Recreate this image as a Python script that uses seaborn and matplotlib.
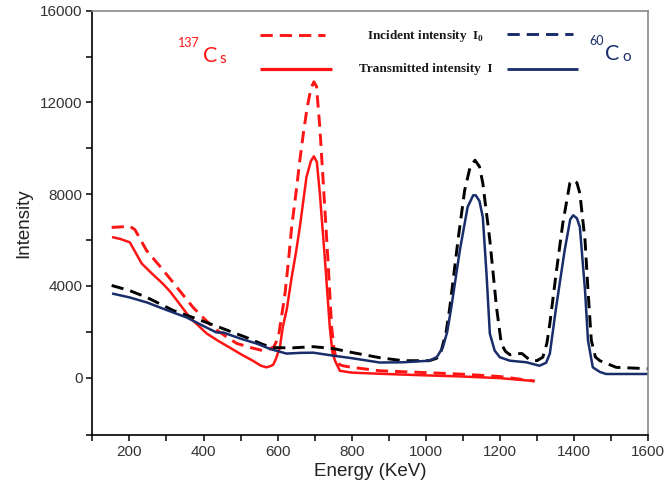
import numpy as np
import pandas as pd
import matplotlib
matplotlib.use("Agg")
import matplotlib.pyplot as plt
import seaborn as sns
from matplotlib.lines import Line2D
from matplotlib.ticker import MultipleLocator, FixedLocator

# ---------------- data ----------------
cs_inc_x = [152, 201, 215, 246, 280, 309, 340, 372, 400, 426, 460, 490, 530, 560, 575, 590,
            602, 611, 620, 630, 638, 650, 660, 670, 680, 690, 698, 705, 714, 725, 736, 746,
            752, 759, 768, 776, 800, 876, 1000, 1100, 1200, 1294]
cs_inc_y = [6550, 6600, 6450, 5550, 4900, 4330, 3700, 3060, 2600, 2190, 1800, 1490, 1300, 1180, 1220, 1350,
            1750, 2700, 3660, 5200, 6570, 8100, 9480, 10700, 11800, 12600, 12900, 12700, 10930, 8040, 5110, 2190,
            1300, 740, 560, 520, 450, 300, 220, 150, 50, -150]

cs_tr_x = [153, 175, 201, 215, 233, 260, 290, 310, 328, 363, 409, 440, 471, 500, 533, 555, 570, 580,
           588, 595, 606, 614, 625, 638, 650, 660, 678, 690, 698, 706, 714, 728, 741, 748, 755, 768,
           800, 876, 1000, 1100, 1200, 1294]
cs_tr_y = [6130, 6050, 5900, 5500, 4980, 4550, 4100, 3750, 3370, 2620, 1920, 1600, 1310, 1030, 740, 520, 450, 500,
           560, 800, 1310, 2200, 3000, 4380, 5500, 6570, 8750, 9450, 9650, 9400, 8040, 5110, 2190, 1100, 740, 300,
           220, 170, 100, 50, -20, -150]

co_inc_x = [152, 200, 247, 318, 372, 444, 516, 560, 588, 640, 696, 750, 800, 876, 938, 1010, 1030, 1042,
            1055, 1065, 1087, 1105, 1120, 1133, 1145, 1154, 1173, 1191, 1204, 1215, 1227, 1245, 1260,
            1280, 1300, 1316, 1327, 1335, 1352, 1370, 1389, 1398, 1408, 1416, 1430, 1438, 1447, 1458,
            1470, 1514, 1600]
co_inc_y = [4020, 3800, 3500, 2930, 2620, 2190, 1750, 1450, 1310, 1300, 1350, 1270, 1100, 870, 740, 740, 850, 1180,
            2000, 3070, 5990, 8170, 9200, 9480, 9200, 8480, 5990, 3070, 1480, 1150, 1000, 1050, 1050,
            780, 740, 890, 1500, 2360, 4550, 6730, 8480, 8610, 8500, 8040, 5990, 3800, 1620, 900,
            740, 450, 390]

co_tr_x = [153, 200, 247, 300, 355, 400, 435, 453, 500, 543, 580, 624, 660, 696, 750, 800, 876, 938, 1010,
           1030, 1046, 1058, 1069, 1092, 1113, 1128, 1135, 1145, 1154, 1164, 1173, 1186, 1200, 1227, 1272,
           1307, 1325, 1335, 1352, 1375, 1390, 1398, 1408, 1416, 1430, 1438, 1451, 1470, 1487, 1600]
co_tr_y = [3670, 3500, 3280, 2950, 2620, 2250, 1970, 1970, 1700, 1490, 1250, 1050, 1080, 1090, 960, 850, 660, 670, 740,
           900, 1320, 2000, 3070, 5550, 7440, 7950, 7950, 7700, 7000, 4530, 1920, 1180, 890, 740, 670,
           520, 650, 1050, 3070, 5550, 6900, 7080, 6950, 6570, 3800, 1620, 450, 250, 160, 160]

x_ticks = [200, 400, 600, 800, 1000, 1200, 1400, 1600]
y_ticks = [0, 4000, 8000, 12000, 16000]

RED = "#ff1414"
NAVY = "#1a2d6b"
BLACK = "#000000"

sns.set_style("ticks")
plt.rcParams["font.family"] = ["Liberation Sans", "DejaVu Sans"]
plt.rcParams["mathtext.fontset"] = "custom"
plt.rcParams["mathtext.rm"] = "Liberation Serif"
plt.rcParams["mathtext.bf"] = "Liberation Serif:bold"

fig = plt.figure(figsize=(6.65, 4.88), dpi=100)
ax = fig.add_axes([92.4 / 665, 53 / 488, 555.6 / 665, 424.3 / 488])

series = [
    (cs_inc_x, cs_inc_y, RED, True, 2.1),
    (cs_tr_x, cs_tr_y, RED, False, 1.8),
    (co_inc_x, co_inc_y, BLACK, True, 2.1),
    (co_tr_x, co_tr_y, NAVY, False, 1.8),
]
for xs, ys, col, dashed, lw in series:
    df = pd.DataFrame({"x": xs, "y": ys})
    sns.lineplot(data=df, x="x", y="y", ax=ax, color=col, lw=lw, sort=False,
                 estimator=None, legend=False)
    ln = ax.lines[-1]
    if dashed:
        ln.set_dashes([4.2, 2.4])
    ln.set_solid_capstyle("butt")
    ln.set_solid_joinstyle("round")

ax.set_xlim(100, 1600)
ax.set_ylim(-2500, 16000)
ax.xaxis.set_major_locator(FixedLocator(x_ticks))
ax.xaxis.set_minor_locator(MultipleLocator(100))
ax.yaxis.set_major_locator(FixedLocator(y_ticks))
ax.yaxis.set_minor_locator(FixedLocator([-2500, 2000, 6000, 10000, 14000]))
ax.tick_params(which="both", direction="out", length=4, width=1.1, color="black",
               labelsize=11, labelcolor="#333333", pad=3)
ax.tick_params(axis="x", which="both", top=False)
ax.tick_params(axis="y", which="both", right=False)

for s in ["left", "bottom"]:
    ax.spines[s].set_color("black")
    ax.spines[s].set_linewidth(1.2)
for s in ["top", "right"]:
    ax.spines[s].set_visible(True)
    ax.spines[s].set_color("#888888")
    ax.spines[s].set_linewidth(1.2)

ax.set_xlabel("Energy (KeV)", fontsize=13.5, color="#222222", labelpad=3)
ax.set_ylabel("Intensity", fontsize=13.5, color="#222222", labelpad=6)

# legend-like annotations (axes-fraction coordinates)
def fx(px):
    return (px - 92.4) / 555.6

def fy(py):
    return (435 - py) / 424.3

ax.add_line(Line2D([fx(260), fx(325)], [fy(35), fy(35)], transform=ax.transAxes,
                   color=RED, lw=2.1, dashes=[4.2, 2.4], solid_capstyle="butt"))
ax.add_line(Line2D([fx(260), fx(332)], [fy(69), fy(69)], transform=ax.transAxes,
                   color=RED, lw=2.3, solid_capstyle="butt"))
ax.add_line(Line2D([fx(507), fx(573)], [fy(34), fy(34)], transform=ax.transAxes,
                   color=NAVY, lw=2.1, dashes=[4.2, 2.4], solid_capstyle="butt"))
ax.add_line(Line2D([fx(507), fx(578)], [fy(69), fy(69)], transform=ax.transAxes,
                   color=NAVY, lw=2.0, solid_capstyle="butt"))

ax.text(fx(426), fy(39), r"Incident intensity  $\mathbf{I}_\mathbf{0}$", transform=ax.transAxes,
        ha="center", va="baseline", fontsize=9.5, fontweight="bold",
        family=["Liberation Serif", "DejaVu Serif"], color="#1a1a1a")
ax.text(fx(426), fy(72), "Transmitted intensity  I", transform=ax.transAxes,
        ha="center", va="baseline", fontsize=9.5, fontweight="bold",
        family=["Liberation Serif", "DejaVu Serif"], color="#1a1a1a")

def ftext(px, py, s, size, color):
    fig.text(px / 665, 1 - py / 488, s, fontsize=size, color=color, ha="left",
             va="baseline", family=["Lato", "DejaVu Sans"])

ftext(178, 47, "137", 9, RED)
ftext(203, 62, "C", 15.5, RED)
ftext(219, 63, "s", 11, RED)
ftext(589, 45, "60", 9, NAVY)
ftext(605, 60, "C", 15.5, NAVY)
ftext(622, 61, "o", 11, NAVY)

fig.savefig("out.png", dpi=100)
